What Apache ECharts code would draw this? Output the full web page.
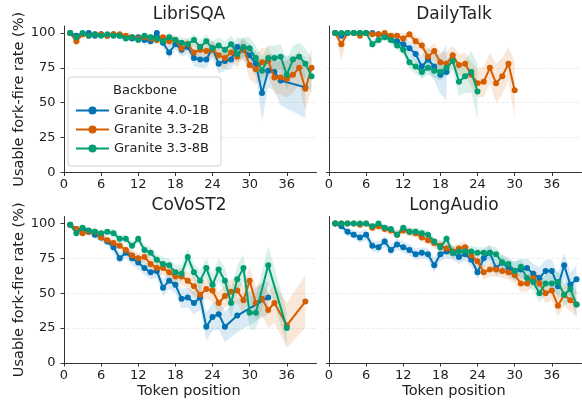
<!DOCTYPE html>
<html>
<head>
<meta charset="utf-8">
<script src="https://cdn.jsdelivr.net/npm/echarts@6/dist/echarts.min.js"></script>
<style>
  html, body { margin: 0; padding: 0; background: #fff; }
  #chart { width: 582px; height: 400px; }
</style>
</head>
<body>
<div id="chart"></div>
<script>
// token positions (x)
const tokens = [1, 2, 3, 4, 5, 6, 7, 8, 9, 10, 11, 12, 13, 14, 15, 16, 17, 18, 19, 20,
  21, 22, 23, 24, 25, 26, 27, 28, 29, 30, 31, 32, 33, 34, 35, 36, 37, 38, 39, 40]
const xTicks = [0, 6, 12, 18, 24, 30, 36]
const yTicks = [0, 25, 50, 75, 100]
const datasets = ['LibriSQA', 'DailyTalk', 'CoVoST2', 'LongAudio']
const backbones = ['Granite 4.0-1B', 'Granite 3.3-2B', 'Granite 3.3-8B']
const colors = ['#0173b2', '#d55e00', '#029e73']

// usable fork-fire rate (%) and band half-width, per dataset / backbone
const libri1B = [100, 98, 99, 100, 98, 99, 98, 99, 98, 97, 96, 97, 95, 94, 100, 93, 86, 92, 88, 90,
  82, 81, 81, 89, 78, 80, 81, 90, 88, 84, 78, 57, 73, 72, 66, null, null, null, 61, null]
const libri1Bci = [1, 2, 1, 1, 2, 1, 2, 1, 2, 2, 2, 2, 3, 3, 2, 4, 5, 4, 5, 5,
  6, 6, 6, 6, 7, 7, 7, 7, 8, 8, 9, 20, 12, 13, 18, 0, 0, 0, 22, 0]
const libri2B = [100, 94, 99, 98, 99, 99, 98, 99, 99, 98, 97, 96, 97, 96, 95, 97, 94, 95, 89, 92,
  86, 88, 87, 88, 84, 82, 86, 83, 89, 77, 74, 79, 80, 68, 68, 67, 70, 75, 60, 75]
const libri2Bci = [1, 4, 1, 2, 1, 1, 2, 1, 1, 2, 2, 2, 2, 3, 3, 2, 4, 3, 5, 4,
  6, 5, 6, 6, 7, 8, 7, 8, 7, 10, 11, 10, 10, 12, 12, 13, 13, 12, 16, 14]
const libri8B = [100, 97, 100, 98, 99, 98, 99, 98, 98, 96, 97, 95, 98, 97, 96, 94, 97, 95, 93, 92,
  95, 90, 94, 89, 91, 88, 92, 85, 90, 89, 82, 73, 82, 82, 83, 70, 81, 83, 78, 69]
const libri8Bci = [1, 2, 1, 1, 1, 1, 1, 1, 2, 2, 2, 2, 2, 2, 3, 3, 3, 3, 4, 4,
  4, 5, 5, 5, 6, 6, 6, 7, 7, 8, 9, 10, 9, 9, 9, 11, 10, 10, 11, 13]

const daily1B = [100, 98, 100, 100, 100, 100, 100, 99, 98, 96, 94, 92, 89, 85, 76, 81, 76, 70, 72]
const daily1Bci = [1, 3, 1, 1, 1, 1, 1, 2, 2, 3, 3, 4, 5, 6, 8, 8, 10, 14, 20]
const daily2B = [100, 92, 100, 100, 98, 100, 99, 99, 100, 98, 98, 96, 99, 94, 91, 83, 87, 79, 78, 84,
  77, 78, 70, 64, 65, 75, 64, 69, 78, 59]
const daily2Bci = [1, 12, 1, 1, 2, 1, 2, 2, 1, 3, 3, 4, 3, 4, 5, 6, 6, 7, 8, 7,
  8, 8, 9, 10, 11, 11, 14, 13, 12, 20]
const daily8B = [100, 100, 100, 100, 100, 100, 92, 95, 97, 95, 91, 88, 79, 76, 72, 75, 73, 72, 75, 80,
  65, 69, 72, 58]
const daily8Bci = [1, 1, 1, 1, 1, 1, 3, 3, 2, 3, 3, 4, 5, 5, 5, 5, 5, 6, 6, 7,
  10, 12, 15, 20]

const covost1B = [99, 96, 96, 94, 92, 90, 87, 83, 75, 79, 75, 72, 68, 65, 66, 54, 59, 56, 46, 47,
  43, 47, 26, 33, 35, 26, null, 34, null, null, null, null, 47]
const covost1Bci = [1, 2, 2, 2, 3, 3, 3, 4, 4, 4, 5, 5, 5, 5, 5, 6, 6, 6, 7, 7,
  8, 9, 10, 10, 11, 11, 0, 12, 0, 0, 0, 0, 12]
const covost2B = [99, 96, 93, 94, 94, 90, 88, 86, 84, 81, 77, 75, 76, 71, 68, 68, 65, 62, 62, 59,
  55, 49, 53, 52, 43, 48, 51, 52, 45, 59, 43, 46, 38, 43, null, 27, null, null, 44]
const covost2Bci = [1, 2, 2, 2, 2, 3, 3, 3, 3, 3, 4, 4, 4, 4, 5, 5, 5, 5, 6, 6,
  7, 7, 7, 8, 8, 8, 9, 9, 10, 10, 12, 12, 13, 14, 0, 16, 0, 0, 19]
const covost8B = [99, 93, 97, 95, 94, 93, 94, 93, 89, 89, 84, 89, 81, 79, 74, 71, 70, 65, 64, 76,
  65, 59, 68, 56, 67, 59, 43, 60, 68, 36, 36, null, 70, null, null, 25]
const covost8Bci = [1, 2, 2, 2, 2, 2, 2, 3, 3, 3, 3, 3, 4, 4, 4, 5, 5, 5, 6, 6,
  6, 7, 7, 8, 8, 9, 10, 10, 10, 12, 12, 0, 14, 0, 0, 12]

const long1B = [100, 98, 94, 92, 90, 92, 84, 83, 87, 81, 85, 83, 81, 78, 79, 78, 70, 78, 80, 79,
  76, 78, 74, 65, 75, 79, 68, 72, 68, 66, 67, 68, 64, 61, 66, 66, 55, 70, 56, 60]
const long1Bci = [1, 2, 3, 3, 4, 4, 4, 4, 4, 4, 4, 4, 4, 4, 4, 4, 5, 5, 5, 5,
  5, 5, 5, 5, 6, 6, 6, 6, 6, 7, 7, 7, 7, 8, 8, 8, 9, 9, 9, 10]
const long2B = [100, 100, 100, 100, 99, 100, 97, 98, 96, 95, 92, 95, 94, 93, 90, 88, 86, 84, 82, 80,
  82, 83, 77, 73, 65, 67, 67, 66, 65, 63, 57, 57, 61, 57, 50, 52, 41, 49, 45, 42]
const long2Bci = [1, 1, 1, 1, 2, 2, 3, 2, 3, 3, 3, 3, 3, 3, 3, 3, 4, 4, 4, 4,
  4, 4, 4, 5, 5, 5, 5, 5, 5, 6, 6, 6, 6, 7, 7, 7, 8, 8, 8, 9]
const long8B = [100, 100, 100, 100, 100, 100, 98, 100, 97, 96, 92, 97, 94, 94, 93, 92, 87, 83, 89, 79,
  80, 80, 80, 79, 79, 79, 78, 72, 71, 66, 69, 61, 58, 50, 57, 57, 58, 49, 53, 42]
const long8Bci = [1, 1, 1, 1, 1, 1, 2, 1, 2, 2, 3, 2, 3, 3, 3, 3, 3, 4, 4, 4,
  4, 4, 4, 4, 4, 5, 5, 5, 5, 6, 6, 6, 6, 7, 7, 7, 8, 8, 8, 9]

const means = [
  [libri1B, libri2B, libri8B],
  [daily1B, daily2B, daily8B],
  [covost1B, covost2B, covost8B],
  [long1B, long2B, long8B]
]
const halfWidths = [
  [libri1Bci, libri2Bci, libri8Bci],
  [daily1Bci, daily2Bci, daily8Bci],
  [covost1Bci, covost2Bci, covost8Bci],
  [long1Bci, long2Bci, long8Bci]
]

const font = 'DejaVu Sans'
const textColor = '#222'
const axisColor = '#333'

// panel boxes (2 x 2)
const grids = [
  { left: 61.5, top: 26, width: 255, height: 146.5 },
  { left: 326.5, top: 26, width: 255, height: 146.5 },
  { left: 61.5, top: 216.5, width: 255, height: 146.5 },
  { left: 326.5, top: 216.5, width: 255, height: 146.5 }
]

const xAxes = grids.map((g, k) => ({
  type: 'value',
  gridIndex: k,
  min: -0.4,
  max: 40.8,
  name: k >= 2 ? 'Token position' : '',
  nameLocation: 'middle',
  nameGap: 21,
  nameTextStyle: { fontFamily: font, fontSize: 14.5, color: textColor },
  axisLine: { lineStyle: { color: axisColor, width: 1 } },
  axisTick: { customValues: xTicks, length: 3.5, lineStyle: { color: axisColor } },
  axisLabel: { customValues: xTicks, margin: 6, fontFamily: font, fontSize: 13, color: textColor },
  splitLine: { show: false }
}))

const yAxes = grids.map((g, k) => ({
  type: 'value',
  gridIndex: k,
  min: 0,
  max: 105,
  interval: 25,
  name: k % 2 === 0 ? 'Usable fork-fire rate (%)' : '',
  nameLocation: 'middle',
  nameGap: 35,
  nameRotate: 90,
  nameTextStyle: { fontFamily: font, fontSize: 14.5, color: textColor },
  axisLine: { show: true, lineStyle: { color: axisColor, width: 1 } },
  axisTick: { show: k % 2 === 0, customValues: yTicks, length: 3.5, lineStyle: { color: axisColor } },
  axisLabel: { show: k % 2 === 0, customValues: yTicks, margin: 6, fontFamily: font, fontSize: 13, color: textColor },
  splitLine: {
    show: true,
    showMinLine: false,
    showMaxLine: false,
    lineStyle: { color: '#e6e6e6', type: [3, 2], width: 0.8 }
  }
}))

function bandSeries(k, b) {
  const mean = means[k][b]
  const ci = halfWidths[k][b]
  const pts = []
  mean.forEach((v, i) => {
    if (v != null) pts.push([tokens[i], Math.max(0, v - ci[i]), Math.min(100, v + ci[i])])
  })
  return {
    type: 'custom',
    xAxisIndex: k,
    yAxisIndex: k,
    data: pts,
    silent: true,
    z: 1,
    encode: { x: 0, y: [1, 2] },
    renderItem: (params, api) => {
      if (params.dataIndex !== 0) return
      const upper = pts.map(p => api.coord([p[0], p[2]]))
      const lower = pts.map(p => api.coord([p[0], p[1]])).reverse()
      return {
        type: 'polygon',
        shape: { points: upper.concat(lower) },
        style: { fill: colors[b], opacity: 0.15 }
      }
    }
  }
}

function lineSeries(k, b) {
  const data = []
  means[k][b].forEach((v, i) => {
    if (v != null) data.push([tokens[i], v])
  })
  return {
    type: 'line',
    name: backbones[b],
    xAxisIndex: k,
    yAxisIndex: k,
    data: data,
    z: 3 + b,
    symbol: 'circle',
    symbolSize: 6,
    showSymbol: true,
    lineStyle: { color: colors[b], width: 2 },
    itemStyle: { color: colors[b] },
    emphasis: { disabled: true }
  }
}

const series = []
datasets.forEach((d, k) => {
  backbones.forEach((_, b) => series.push(bandSeries(k, b)))
  backbones.forEach((_, b) => series.push(lineSeries(k, b)))
})

const titleText = (text, x, y) => ({
  type: 'text',
  x: x,
  y: y,
  style: { text: text, font: '17px "DejaVu Sans"', fill: textColor, textAlign: 'center', textVerticalAlign: 'middle' }
})

const option = {
  animation: false,
  backgroundColor: '#fff',
  grid: grids,
  xAxis: xAxes,
  yAxis: yAxes,
  series: series,
  legend: {
    data: backbones,
    orient: 'vertical',
    left: 75,
    top: 104,
    padding: 0,
    itemWidth: 33,
    itemHeight: 10,
    itemGap: 6,
    z: 20,
    textStyle: { fontFamily: font, fontSize: 13, color: textColor },
    selectedMode: false
  },
  graphic: [
    titleText('LibriSQA', 189, 15),
    titleText('DailyTalk', 454, 15),
    titleText('CoVoST2', 189, 206),
    titleText('LongAudio', 454, 206),
    {
      type: 'rect',
      z: 10,
      shape: { x: 68, y: 77, width: 153, height: 89, r: 3 },
      style: { fill: 'rgba(255,255,255,0.85)', stroke: '#d0d0d0', lineWidth: 1 }
    },
    {
      type: 'text',
      z: 11,
      x: 145,
      y: 91,
      style: { text: 'Backbone', font: '13px "DejaVu Sans"', fill: textColor, textAlign: 'center', textVerticalAlign: 'middle' }
    }
  ]
}

const myChart = echarts.init(document.getElementById('chart'))
myChart.setOption(option)
</script>
</body>
</html>
